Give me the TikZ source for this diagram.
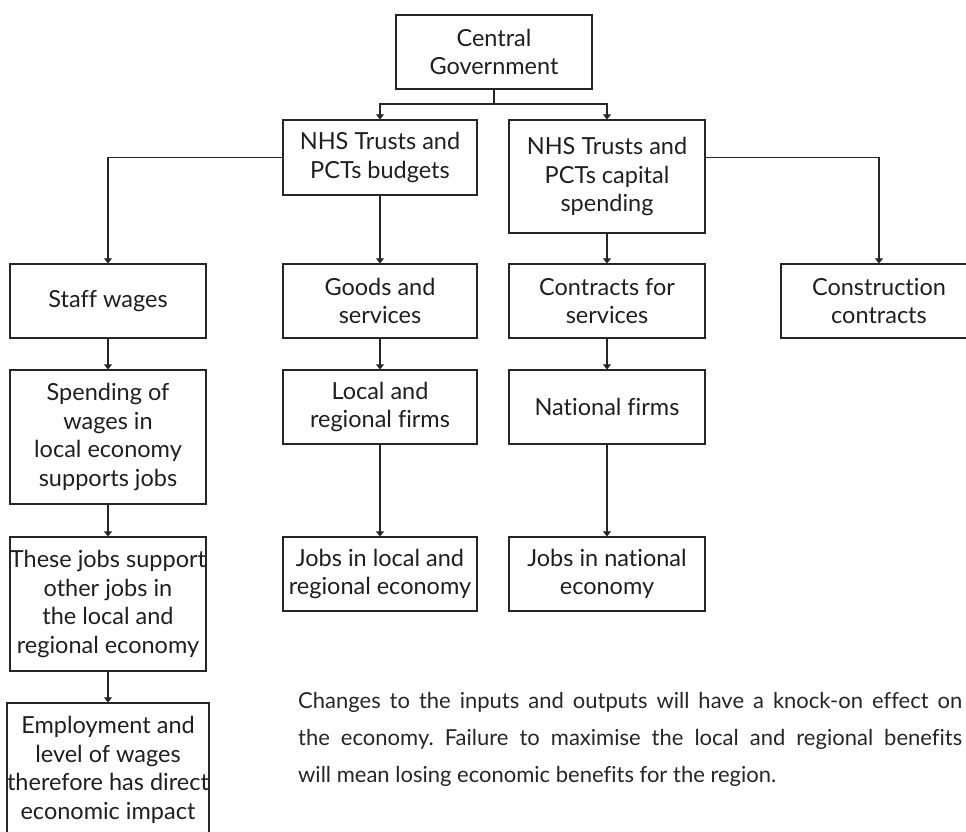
\documentclass[tikz,border=0pt]{standalone}
\usepackage{fontspec}
\setmainfont[Ligatures=CommonOff]{Lato}
\usetikzlibrary{arrows.meta}
\frenchspacing
\begin{document}
\begin{tikzpicture}[x=1pt,y=-1pt,
  box/.style={draw=black!85, line width=1.2pt, minimum width=196pt, align=center,
    inner sep=0pt, font=\fontsize{23.5}{28.5}\selectfont, text=black!88},
  conn/.style={draw=black!85, line width=1.1pt, -{Triangle[width=8pt,length=5pt]}},
  line/.style={draw=black!85, line width=1.1pt},
  para/.style={anchor=base west, inner sep=0pt, font=\fontsize{22}{37}\selectfont, text=black!85}]
\useasboundingbox (0,0) rectangle (966,832);
\clip (0,0) rectangle (966,832);
% nodes
\node[box, minimum height=74pt] (cg) at (494,52) {Central\\Government};
\node[box, minimum width=194pt, minimum height=75pt] (bud) at (380,157.5) {NHS Trusts and\\PCTs budgets};
\node[box, minimum height=113pt] (cap) at (607,176.5) {NHS Trusts and\\PCTs capital\\spending};
\node[box, minimum height=74pt] (staff) at (108,301) {Staff wages};
\node[box, minimum width=194pt, minimum height=74pt] (goods) at (380,301) {Goods and\\services};
\node[box, minimum height=74pt] (contr) at (607,301) {Contracts for\\services};
\node[box, minimum height=74pt] (constr) at (879,301) {Construction\\contracts};
\node[box, minimum height=134pt] (spend) at (108,437) {Spending of\\wages in\\local economy\\supports jobs};
\node[box, minimum width=194pt, minimum height=74pt] (local) at (380,407) {Local and\\regional firms};
\node[box, minimum height=74pt] (nat) at (607,407) {National firms};
\node[box, minimum height=134pt] (these) at (108,604) {These jobs support\\other jobs in\\the local and\\regional economy};
\node[box, minimum width=194pt, minimum height=74pt] (jobsl) at (380,574) {Jobs in local and\\regional economy};
\node[box, minimum height=74pt] (jobsn) at (607,574) {Jobs in national\\economy};
\node[box, minimum height=134pt] (emp) at (108,770) {Employment and\\level of wages\\therefore has direct\\economic impact};
% connectors
\coordinate (split) at (494,104);
\draw[line] (cg.south) -- (split);
\draw[conn] (split) -| (bud.north);
\draw[conn] (split) -| (cap.north);
\draw[conn] (bud.west) -| (staff.north);
\draw[conn] (cap.east |- bud.west) -| (constr.north);
\draw[conn] (bud) -- (goods);
\draw[conn] (cap) -- (contr);
\draw[conn] (staff) -- (spend);
\draw[conn] (spend) -- (these);
\draw[conn] (these) -- (emp);
\draw[conn] (goods) -- (local);
\draw[conn] (local) -- (jobsl);
\draw[conn] (contr) -- (nat);
\draw[conn] (nat) -- (jobsn);
% paragraph
\node[para] (p1) at (298,708) {\makebox[664pt][s]{Changes to the inputs and outputs will have a knock-on effect on}};
\node[para] (p2) at (298,745) {\makebox[664pt][s]{the economy. Failure to maximise the local and regional benefits}};
\node[para] (p3) at (298,782) {will mean losing economic benefits for the region.};
\end{tikzpicture}
\end{document}
